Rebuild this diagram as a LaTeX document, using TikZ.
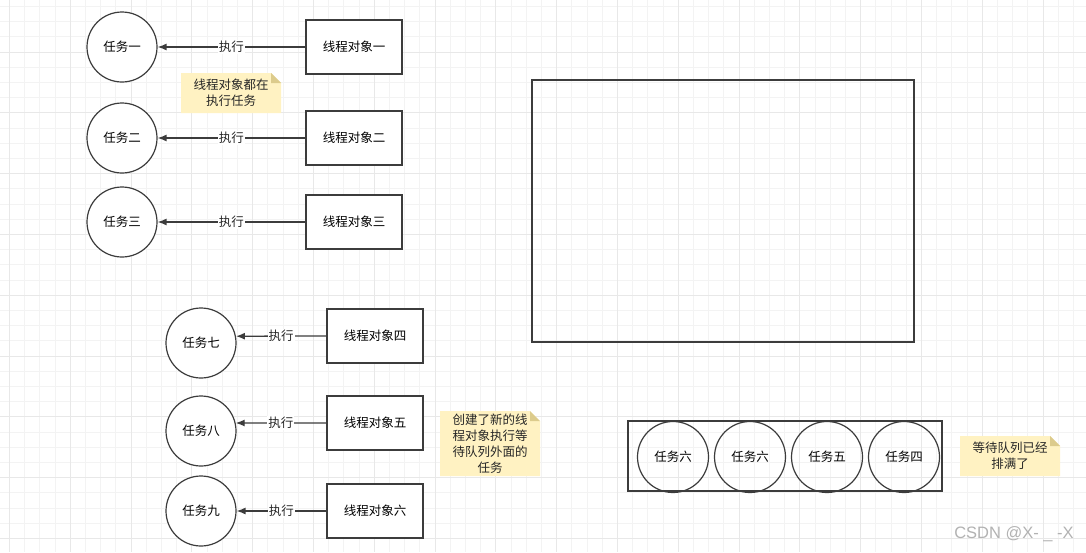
\documentclass[tikz,border=0pt]{standalone}
\usepackage{fontspec}
\setmainfont{Noto Sans CJK SC}
\newfontfamily\markfont{Liberation Sans}
\usetikzlibrary{arrows.meta}
\definecolor{gridminor}{HTML}{F3F3F3}
\definecolor{gridmajor}{HTML}{E8E8E8}
\definecolor{linegray}{HTML}{3C3C3C}
\definecolor{notefill}{HTML}{FFF2C2}
\definecolor{notefold}{HTML}{DCCB8C}
\tikzset{
  task/.style   = {circle, draw=linegray, line width=1.2pt, fill=white,
                   minimum size=70pt, inner sep=0pt},
  thread/.style = {rectangle, draw=linegray, line width=1.5pt, fill=white,
                   minimum width=96pt, minimum height=54pt},
  run/.style    = {-{Latex[length=9pt,width=7pt]}, draw=linegray, line width=1.3pt},
  runlabel/.style = {fill=white, inner sep=1pt, text=black!85},
  note/.style   = {align=center, inner sep=0pt, text=black!85,
                   path picture={
                     \fill[notefill] (path picture bounding box.south west)
                       -- (path picture bounding box.south east)
                       -- ([yshift=-10pt]path picture bounding box.north east)
                       -- ([xshift=-10pt]path picture bounding box.north east)
                       -- (path picture bounding box.north west) -- cycle;
                     \fill[notefold] ([yshift=-10pt]path picture bounding box.north east)
                       -- ([xshift=-10pt]path picture bounding box.north east)
                       -- ([xshift=-10pt,yshift=-10pt]path picture bounding box.north east)
                       -- cycle;}}
}

\begin{document}
\begin{tikzpicture}[x=1pt, y=-1pt, font=\fontsize{12.5}{16}\selectfont]
  \useasboundingbox[fill=white] (0,0) rectangle (1086,552);
  % grid
  \foreach \x in {0,...,71}
    \draw[gridminor, line width=1pt] ({9.5+15.2*\x},0) -- ++(0,552);
  \foreach \y in {0,...,36}
    \draw[gridminor, line width=1pt] (0,{6.5+15.2*\y}) -- ++(1086,0);
  \foreach \x in {0,...,17}
    \draw[gridmajor, line width=1pt] ({9.5+60.8*\x},0) -- ++(0,552);
  \foreach \y in {0,...,8}
    \draw[gridmajor, line width=1pt] (0,{52+60.8*\y}) -- ++(1086,0);

  % tasks and threads
  \node[task] (task1) at (122,47) {任务一};
  \node[task] (task2) at (122,138) {任务二};
  \node[task] (task3) at (122,222) {任务三};
  \node[thread] (thread1) at (354,47) {线程对象一};
  \node[thread] (thread2) at (354,138) {线程对象二};
  \node[thread] (thread3) at (354,222) {线程对象三};
  \node[task] (task7) at (201,343) {任务七};
  \node[task] (task8) at (201,431) {任务八};
  \node[task] (task9) at (201,511) {任务九};
  \node[thread] (thread4) at (375,336) {线程对象四};
  \node[thread] (thread5) at (375,423) {线程对象五};
  \node[thread] (thread6) at (375,511) {线程对象六};

  \draw[run] (thread1) -- node[runlabel] {执行} (task1);
  \draw[run] (thread2) -- node[runlabel] {执行} (task2);
  \draw[run] (thread3) -- node[runlabel] {执行} (task3);
  \draw[run] (thread4.west) -- node[runlabel] {执行} (task7.11.5);
  \draw[run] (thread5.west) -- node[runlabel] {执行} (task8.13.2);
  \draw[run] (thread6) -- node[runlabel] {执行} (task9);

  % pool and queue
  \node[draw=linegray, line width=1.3pt, minimum width=382pt, minimum height=262pt]
    (pool) at (723,211) {};
  \node[draw=linegray, line width=1.5pt, minimum width=314pt, minimum height=70pt]
    (queue) at (785,456) {};
  \foreach \n/\x/\t in {q1/673/任务六, q2/750/任务六, q3/827/任务五, q4/904/任务四}
    \node[task, fill=none, minimum size=71pt] (\n) at (\x,457) {\t};

  % notes
  \node[note, minimum width=100pt, minimum height=40pt] (note1) at (231,93)
    {线程对象都在\\执行任务};
  \node[note, minimum width=100pt, minimum height=65pt] (note2) at (490,443.5)
    {创建了新的线\\程对象执行等\\待队列外面的\\任务};
  \node[note, minimum width=100pt, minimum height=40pt] (note3) at (1010,456)
    {等待队列已经\\排满了};

  \node[text=black!30, font=\markfont\fontsize{16.5}{18}\selectfont] (mark) at (1014,534) {CSDN @X-\ \_\ -X};
\end{tikzpicture}
\end{document}
